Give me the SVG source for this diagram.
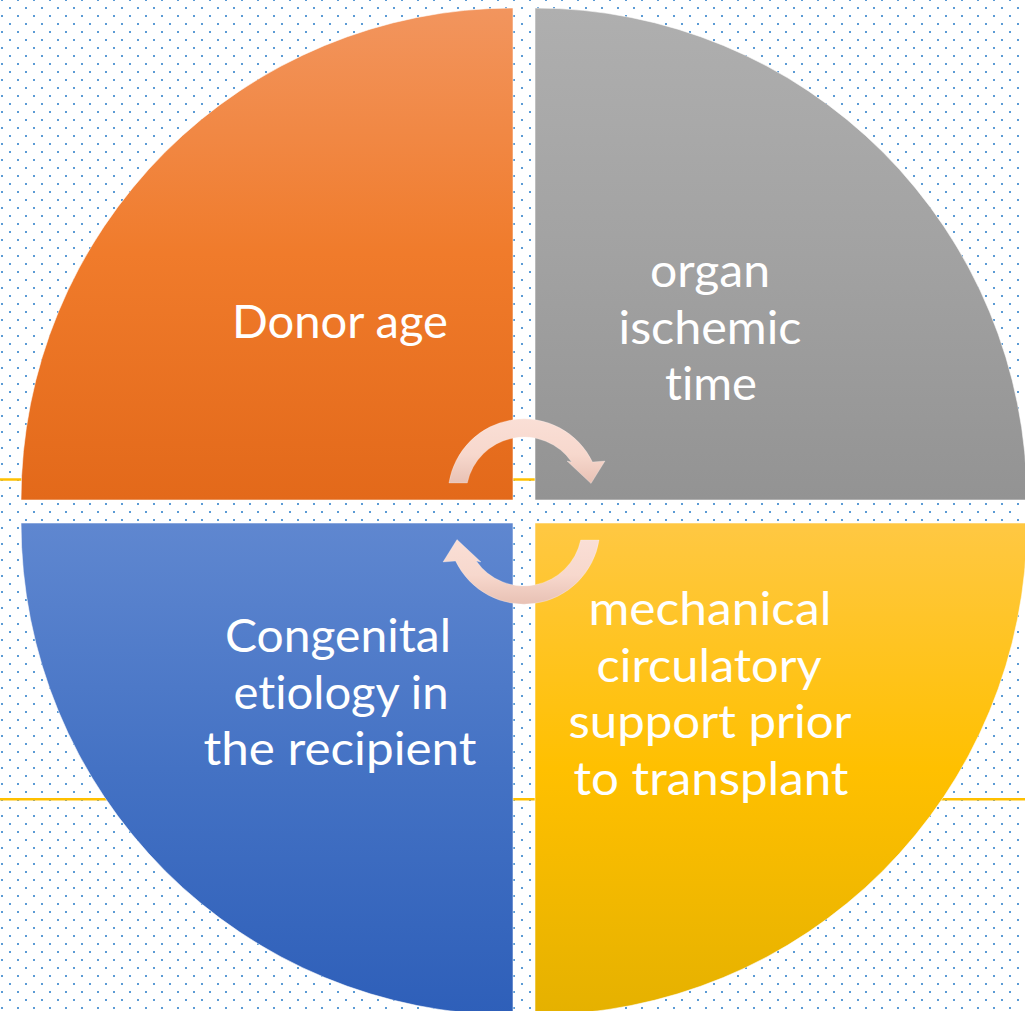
<svg xmlns="http://www.w3.org/2000/svg" width="1025" height="1011" viewBox="0 0 1025 1011">
<style>
.q{stroke:#ffffff;stroke-opacity:0.55;stroke-width:1}
.t{font-family:Lato,"Open Sans","Liberation Sans",sans-serif;font-size:46px;fill:#ffffff;text-anchor:middle;font-variant-ligatures:none;font-feature-settings:"liga" 0}
.ln{stroke:#FFC000;stroke-width:2.5;fill:none}
.arr{stroke:#ffffff;stroke-opacity:0.3;stroke-width:0.8}
</style>
<defs>
<pattern id="dots" patternUnits="userSpaceOnUse" x="0" y="-1" width="16" height="16">
<rect x="1" y="0" width="2" height="2" fill="#5B9BD5"/>
<rect x="9" y="8" width="2" height="2" fill="#5B9BD5"/>
</pattern>
<linearGradient id="gOr" x1="0" y1="0" x2="0" y2="1">
<stop offset="0" stop-color="#F2955E"/>
<stop offset="0.5" stop-color="#F07B2B"/>
<stop offset="1" stop-color="#E3691A"/>
</linearGradient>
<linearGradient id="gGr" x1="0" y1="0" x2="0" y2="1">
<stop offset="0" stop-color="#AFAFAF"/>
<stop offset="0.5" stop-color="#A2A2A2"/>
<stop offset="1" stop-color="#939393"/>
</linearGradient>
<linearGradient id="gBl" x1="0" y1="0" x2="0" y2="1">
<stop offset="0" stop-color="#5F87D0"/>
<stop offset="0.5" stop-color="#4472C4"/>
<stop offset="1" stop-color="#2E5FB9"/>
</linearGradient>
<linearGradient id="gYe" x1="0" y1="0" x2="0" y2="1">
<stop offset="0" stop-color="#FFC843"/>
<stop offset="0.5" stop-color="#FFC000"/>
<stop offset="1" stop-color="#E5B100"/>
</linearGradient>
<linearGradient id="gAr" x1="0" y1="0" x2="0" y2="1">
<stop offset="0" stop-color="#FADFD6"/>
<stop offset="0.55" stop-color="#F7D8CD"/>
<stop offset="1" stop-color="#E8C1B4"/>
</linearGradient>
</defs>
<rect width="1025" height="1011" fill="#ffffff"/>
<rect width="1025" height="1011" fill="url(#dots)"/>
<line class="ln" x1="0" y1="479.5" x2="1025" y2="479.5"/>
<line class="ln" x1="0" y1="799.3" x2="1025" y2="799.3"/>
<g id="node-donor-age">
<path class="q" d="M 513 500 L 21 500 A 492 492 0 0 1 513 8 Z" fill="url(#gOr)"/>
<text class="t" x="340" y="338" textLength="216" lengthAdjust="spacingAndGlyphs">Donor age</text>
</g>
<g id="node-organ-ischemic-time">
<path class="q" d="M 535 500 L 535 8 A 492 492 0 0 1 1027 500 Z" fill="url(#gGr)"/>
<text class="t" x="710" y="287" textLength="120" lengthAdjust="spacingAndGlyphs">organ</text>
<text class="t" x="710" y="343.5" textLength="183" lengthAdjust="spacingAndGlyphs">ischemic</text>
<text class="t" x="711" y="400" textLength="92" lengthAdjust="spacingAndGlyphs">time</text>
</g>
<g id="node-congenital-etiology">
<path class="q" d="M 513 523 L 513 1015 A 492 492 0 0 1 21 523 Z" fill="url(#gBl)"/>
<text class="t" x="338" y="652" textLength="226" lengthAdjust="spacingAndGlyphs">Congenital</text>
<text class="t" x="341" y="708.5" textLength="215" lengthAdjust="spacingAndGlyphs">etiology in</text>
<text class="t" x="340" y="765" textLength="273" lengthAdjust="spacingAndGlyphs">the recipient</text>
</g>
<g id="node-mechanical-support">
<path class="q" d="M 535 523 L 1027 523 A 492 492 0 0 1 535 1015 Z" fill="url(#gYe)"/>
<text class="t" x="710" y="625" textLength="243" lengthAdjust="spacingAndGlyphs">mechanical</text>
<text class="t" x="709" y="681.7" textLength="225" lengthAdjust="spacingAndGlyphs">circulatory</text>
<text class="t" x="710" y="738.3" textLength="283" lengthAdjust="spacingAndGlyphs">support prior</text>
<text class="t" x="711" y="795" textLength="275" lengthAdjust="spacingAndGlyphs">to transplant</text>
</g>
<g id="connectors">
<path class="arr" fill="url(#gAr)" d="M 467.3 483 L 448.9 483 A 76 76 0 0 1 592.5 462 L 605 461 L 591 483.5 L 567 461 L 571.7 462 A 58 58 0 0 0 467.3 483 Z"/>
<path class="arr" fill="url(#gAr)" d="M 580.7 540 L 599.1 540 A 76 76 0 0 1 455.5 561 L 443 562 L 457 539.5 L 481 562 L 476.3 561 A 58 58 0 0 0 580.7 540 Z"/>
</g>
</svg>
